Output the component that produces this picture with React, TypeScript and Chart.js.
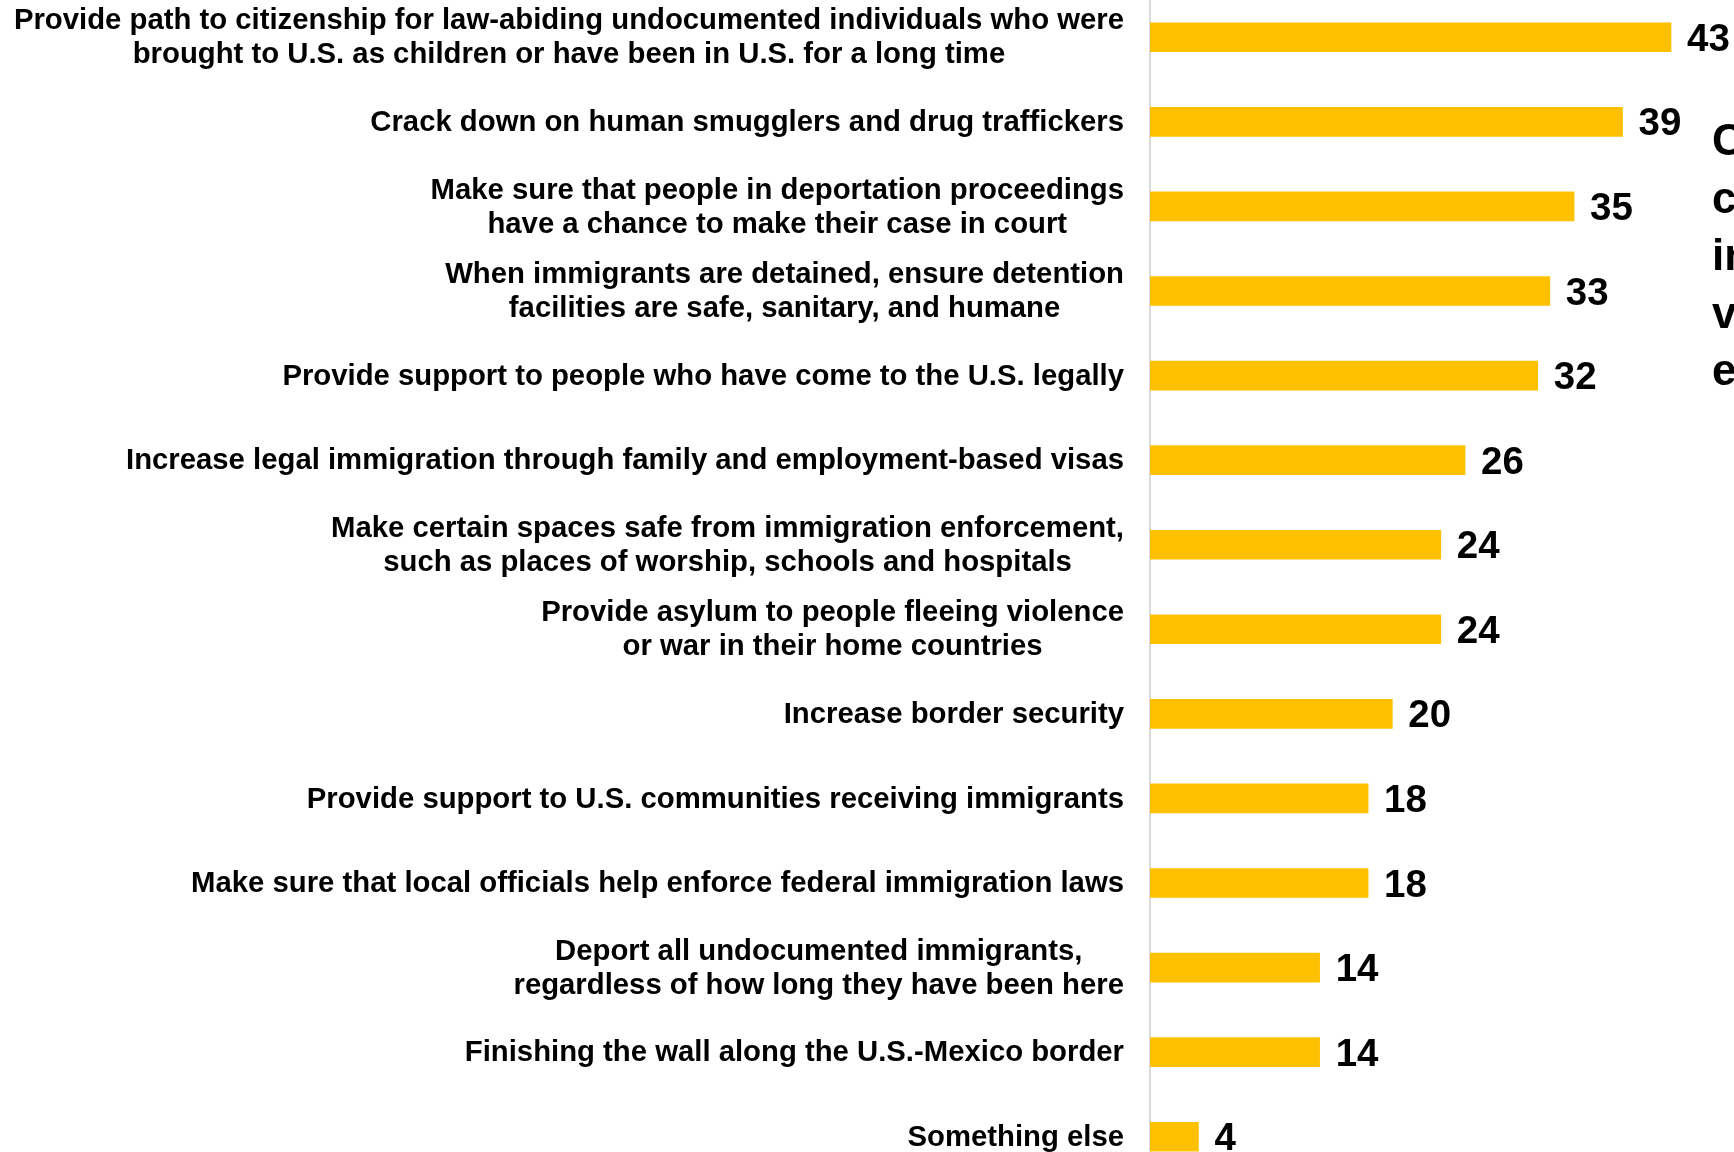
import React, { useEffect, useRef } from "react";
import { Chart, registerables } from "chart.js";

Chart.register(...registerables);

const categories: string[][] = [
  ["Provide path to citizenship for law-abiding undocumented individuals who were", "brought to U.S. as children or have been in U.S. for a long time"],
  ["Crack down on human smugglers and drug traffickers"],
  ["Make sure that people in deportation proceedings", "have a chance to make their case in court"],
  ["When immigrants are detained, ensure detention", "facilities are safe, sanitary, and humane"],
  ["Provide support to people who have come to the U.S. legally"],
  ["Increase legal immigration through family and employment-based visas"],
  ["Make certain spaces safe from immigration enforcement,", "such as places of worship, schools and hospitals"],
  ["Provide asylum to people fleeing violence", "or war in their home countries"],
  ["Increase border security"],
  ["Provide support to U.S. communities receiving immigrants"],
  ["Make sure that local officials help enforce federal immigration laws"],
  ["Deport all undocumented immigrants,", "regardless of how long they have been here"],
  ["Finishing the wall along the U.S.-Mexico border"],
  ["Something else"],
];

const values: number[] = [43, 39, 35, 33, 32, 26, 24, 24, 20, 18, 18, 14, 14, 4];

const sideNote: string[] = ["C", "c", "in", "v", "e"];

const FONT = '"Liberation Sans", Arial, sans-serif';

const labelPlugin = {
  id: "customLabels",
  afterDraw(chart: any) {
    const ctx = chart.ctx;
    const y = chart.scales.y;
    const meta = chart.getDatasetMeta(0);
    const top = chart.canvas.offsetTop || 0;
    ctx.save();
    // category labels
    ctx.font = `bold 29.3px ${FONT}`;
    ctx.fillStyle = "#000";
    ctx.textBaseline = "middle";
    const rightEdge = 1124;
    const lineH = 34;
    categories.forEach((lines, i) => {
      const cy = y.getPixelForValue(i);
      const widths = lines.map((l) => ctx.measureText(l).width);
      const maxW = Math.max(...widths);
      const centerX = rightEdge - maxW / 2;
      ctx.textAlign = "center";
      lines.forEach((l, j) => {
        const ly = cy + 1 + (j - (lines.length - 1) / 2) * lineH;
        ctx.fillText(l, centerX, ly);
      });
    });
    // value labels
    ctx.font = `bold 38.5px ${FONT}`;
    ctx.textAlign = "left";
    meta.data.forEach((bar: any, i: number) => {
      ctx.fillText(String(values[i]), bar.x + 16, bar.y + 3);
    });
    // cut-off side note
    ctx.font = `bold 44px ${FONT}`;
    ctx.textBaseline = "alphabetic";
    sideNote.forEach((t, i) => {
      ctx.fillText(t, 1712, 155 + i * 57.5 - top);
    });
    ctx.restore();
  },
};

export default function App() {
  const ref = useRef<HTMLCanvasElement | null>(null);
  useEffect(() => {
    if (!ref.current) return;
    const chart = new Chart(ref.current, {
      type: "bar",
      data: {
        labels: categories.map((c) => c.join(" ")),
        datasets: [
          {
            data: values,
            backgroundColor: "#FFC000",
            barThickness: 29,
          },
        ],
      },
      options: {
        indexAxis: "y",
        animation: false,
        responsive: false,
        devicePixelRatio: 1,
        layout: { padding: { left: 1150, right: 0, top: 0, bottom: 0 } },
        plugins: { legend: { display: false }, tooltip: { enabled: false } },
        scales: {
          x: { display: false, min: 0, max: 48.2 },
          y: {
            display: true,
            ticks: { display: false },
            grid: { display: true, color: "transparent", drawTicks: false, drawOnChartArea: false },
            border: { display: true, color: "#d9d9d9", width: 2 },
          },
        },
      },
      plugins: [labelPlugin],
    });
    return () => chart.destroy();
  }, []);
  return (
    <div style={{ position: "fixed", left: 0, top: 0, width: 1734, height: 1152, overflow: "hidden", background: "#fff" }}>
      <canvas ref={ref} width={1734} height={1184} style={{ position: "absolute", left: 0, top: -5, width: 1734, height: 1184 }} />
    </div>
  );
}
